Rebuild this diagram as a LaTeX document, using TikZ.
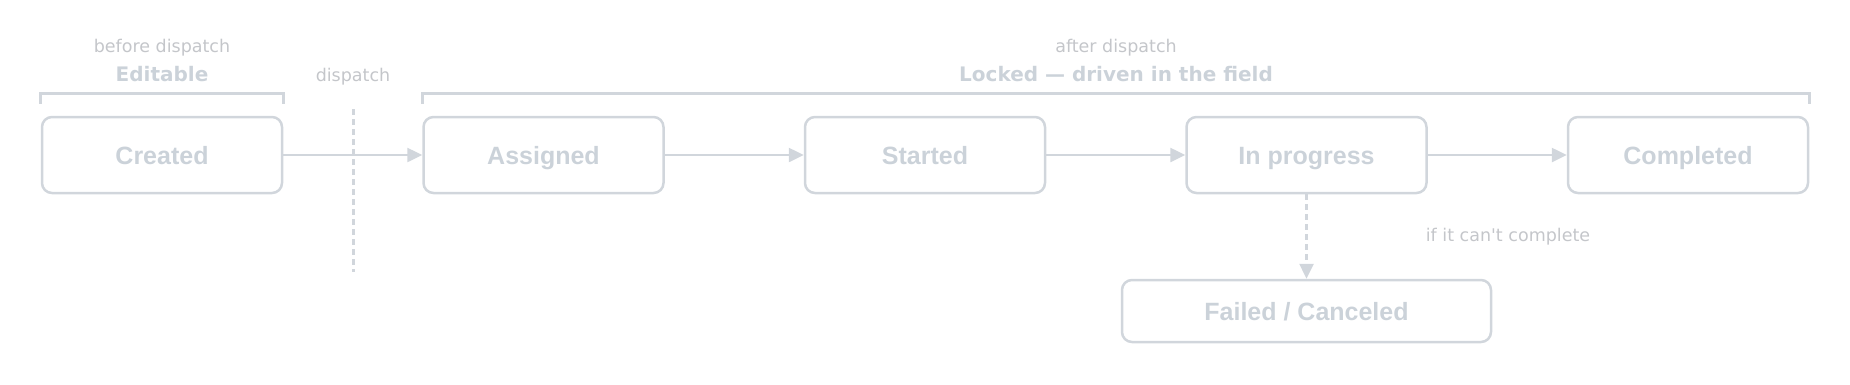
\documentclass[tikz,border=0pt]{standalone}
\usepackage{fontspec}
\setmainfont{Liberation Sans}
\newfontfamily\notefont{DejaVu Sans}
\usepackage{tikz}
\usetikzlibrary{positioning,arrows.meta}
\definecolor{BoxLine}{HTML}{D1D6DC}
\definecolor{BoxText}{HTML}{CBD2D9}
\definecolor{NoteText}{HTML}{C4C6CA}

\begin{document}
\begin{tikzpicture}[x=1pt, y=-1pt,
  state/.style={draw=BoxLine, line width=2.5pt, rounded corners=10pt, minimum width=240pt, minimum height=76pt, text=BoxText, text height=18pt, text depth=0pt, font=\fontsize{25}{30}\selectfont\bfseries},
  flow/.style={draw=BoxLine, line width=2.5pt, -{Triangle[length=15pt,width=14pt]}},
  note/.style={text=NoteText, font=\notefont\fontsize{17.5}{21}\selectfont},
  phase/.style={text=BoxText, font=\notefont\fontsize{20}{24}\selectfont\bfseries},
  bracket/.style={draw=BoxLine, line width=3pt},
  divider/.style={draw=BoxLine, line width=3pt, dash pattern=on 6pt off 4pt}]
  \useasboundingbox (0,0) rectangle (1850,384);

  % States
  \node[state] (created) at (162,155) {Created};
  \node[state] (assigned) at (543.5,155) {Assigned};
  \node[state] (started) at (925,155) {Started};
  \node[state] (inprog) at (1306.5,155) {In progress};
  \node[state] (completed) at (1688,155) {Completed};
  \node[state, minimum width=369pt, minimum height=62pt] (failed) at (1306.5,311) {Failed / Canceled};

  % Transitions
  \draw[flow] (created) -- (assigned);
  \draw[flow] (assigned) -- (started);
  \draw[flow] (started) -- (inprog);
  \draw[flow] (inprog) -- (completed);
  \draw[flow, dash pattern=on 6pt off 4pt] (inprog) -- (failed);
  \node[note] (cantdone) at (1508,237) {if it can't complete};

  % Dispatch divider
  \coordinate (disptop) at (353,109);
  \coordinate (dispbot) at (353,272);
  \draw[divider] (disptop) -- (dispbot);
  \node[note] (disp) at (353,77) {dispatch};

  % Phase brackets
  \draw[bracket] ([yshift=12pt]created.north west) -- ([yshift=22pt]created.north west)
    -- ([yshift=22pt]created.north east) -- ([yshift=12pt]created.north east);
  \draw[bracket] ([yshift=12pt]assigned.north west) -- ([yshift=22pt]assigned.north west)
    -- ([yshift=22pt]completed.north east) -- ([yshift=12pt]completed.north east);

  % Phase labels
  \node[note] (before) at (162,48) {before dispatch};
  \node[phase] (editable) at (162,74) {Editable};
  \node[note] (after) at (1116,48) {after dispatch};
  \node[phase] (locked) at (1116,74) {Locked — driven in the field};
\end{tikzpicture}
\end{document}
